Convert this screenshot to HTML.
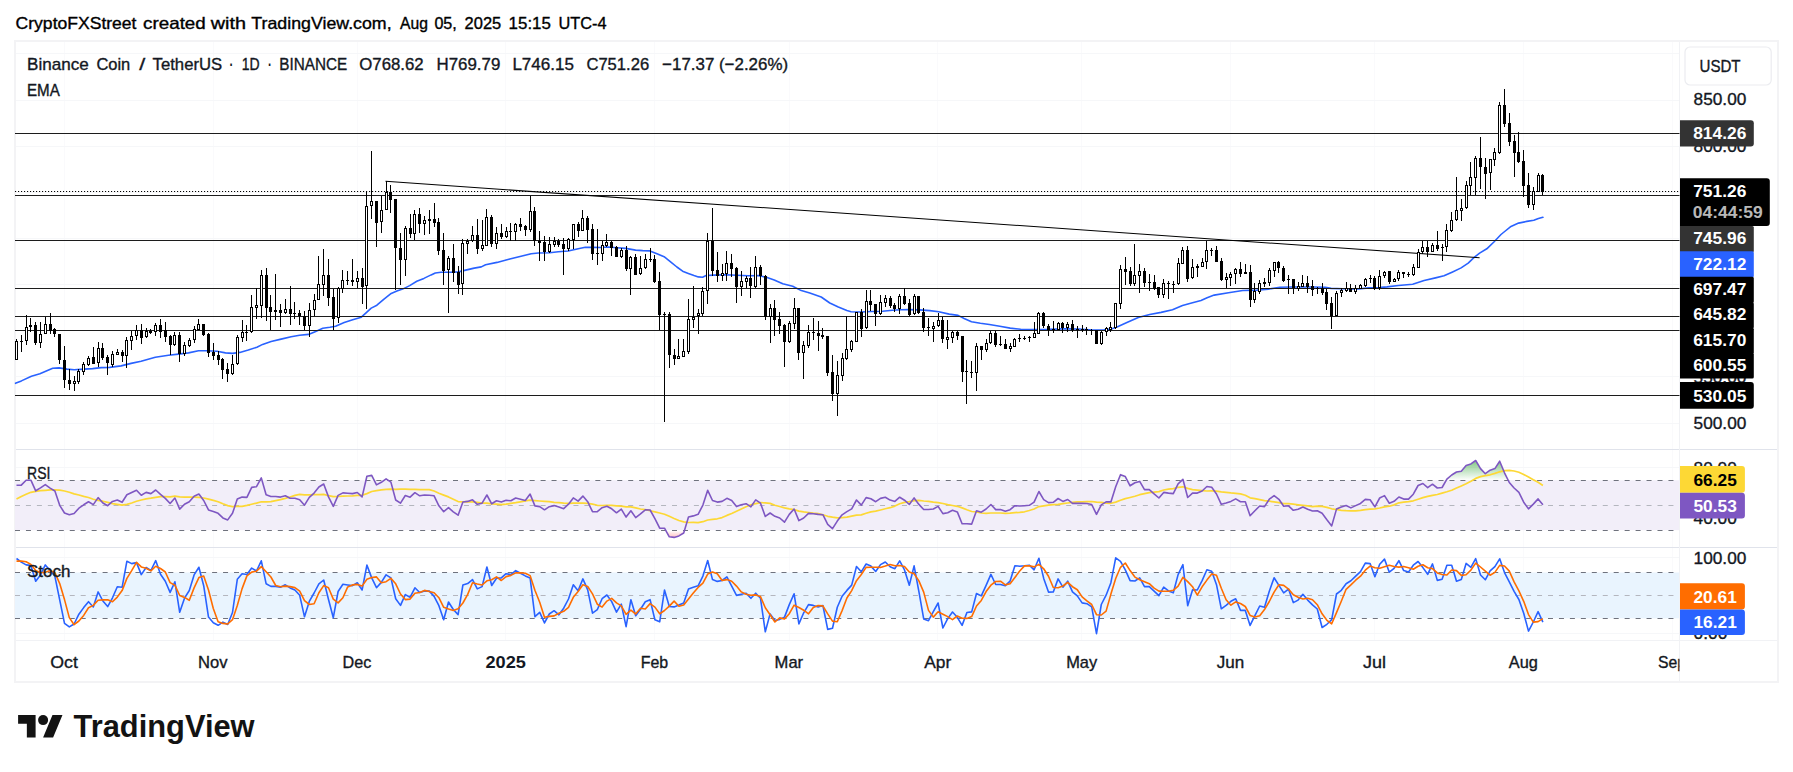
<!DOCTYPE html>
<html lang="en"><head><meta charset="utf-8"><title>BNBUSDT chart</title>
<style>html,body{margin:0;padding:0;background:#fff}body{width:1793px;height:772px;overflow:hidden}svg{display:block}</style>
</head><body>
<svg width="1793" height="772" viewBox="0 0 1793 772" font-family='"Liberation Sans", Arial, sans-serif' font-size="17">
<rect x="0" y="0" width="1793" height="772" fill="#fff"/>
<text x="15.6" y="28.6" font-size="16.5" font-weight="normal" fill="#000" stroke="#000" stroke-width="0.35" textLength="120.9" lengthAdjust="spacingAndGlyphs">CryptoFXStreet</text>
<text x="143.1" y="28.6" font-size="16.5" font-weight="normal" fill="#000" stroke="#000" stroke-width="0.35" textLength="62.7" lengthAdjust="spacingAndGlyphs">created</text>
<text x="210.8" y="28.6" font-size="16.5" font-weight="normal" fill="#000" stroke="#000" stroke-width="0.35" textLength="35.2" lengthAdjust="spacingAndGlyphs">with</text>
<text x="251.3" y="28.6" font-size="16.5" font-weight="normal" fill="#000" stroke="#000" stroke-width="0.35" textLength="140.3" lengthAdjust="spacingAndGlyphs">TradingView.com,</text>
<text x="400.0" y="28.6" font-size="16.5" font-weight="normal" fill="#000" stroke="#000" stroke-width="0.35" textLength="27.9" lengthAdjust="spacingAndGlyphs">Aug</text>
<text x="434.4" y="28.6" font-size="16.5" font-weight="normal" fill="#000" stroke="#000" stroke-width="0.35" textLength="22.4" lengthAdjust="spacingAndGlyphs">05,</text>
<text x="464.6" y="28.6" font-size="16.5" font-weight="normal" fill="#000" stroke="#000" stroke-width="0.35" textLength="36.6" lengthAdjust="spacingAndGlyphs">2025</text>
<text x="508.6" y="28.6" font-size="16.5" font-weight="normal" fill="#000" stroke="#000" stroke-width="0.35" textLength="42.3" lengthAdjust="spacingAndGlyphs">15:15</text>
<text x="558.4" y="28.6" font-size="16.5" font-weight="normal" fill="#000" stroke="#000" stroke-width="0.35" textLength="48.1" lengthAdjust="spacingAndGlyphs">UTC-4</text>
<rect x="15" y="41" width="1763" height="641" fill="none" stroke="#f3f3f5" stroke-width="2"/>
<g shape-rendering="crispEdges">
<line x1="64.3" y1="42" x2="64.3" y2="640" stroke="#fafafc" stroke-width="1"/>
<line x1="213.1" y1="42" x2="213.1" y2="640" stroke="#fafafc" stroke-width="1"/>
<line x1="357.1" y1="42" x2="357.1" y2="640" stroke="#fafafc" stroke-width="1"/>
<line x1="505.9" y1="42" x2="505.9" y2="640" stroke="#fafafc" stroke-width="1"/>
<line x1="654.7" y1="42" x2="654.7" y2="640" stroke="#fafafc" stroke-width="1"/>
<line x1="789.1" y1="42" x2="789.1" y2="640" stroke="#fafafc" stroke-width="1"/>
<line x1="937.9" y1="42" x2="937.9" y2="640" stroke="#fafafc" stroke-width="1"/>
<line x1="1081.9" y1="42" x2="1081.9" y2="640" stroke="#fafafc" stroke-width="1"/>
<line x1="1230.7" y1="42" x2="1230.7" y2="640" stroke="#fafafc" stroke-width="1"/>
<line x1="1374.7" y1="42" x2="1374.7" y2="640" stroke="#fafafc" stroke-width="1"/>
<line x1="1523.5" y1="42" x2="1523.5" y2="640" stroke="#fafafc" stroke-width="1"/>
<line x1="1672.3" y1="42" x2="1672.3" y2="640" stroke="#fafafc" stroke-width="1"/>
<line x1="16" y1="53.8" x2="1679.5" y2="53.8" stroke="#f6f7f9" stroke-width="1"/>
<line x1="16" y1="100.0" x2="1679.5" y2="100.0" stroke="#f6f7f9" stroke-width="1"/>
<line x1="16" y1="146.2" x2="1679.5" y2="146.2" stroke="#f6f7f9" stroke-width="1"/>
<line x1="16" y1="192.3" x2="1679.5" y2="192.3" stroke="#f6f7f9" stroke-width="1"/>
<line x1="16" y1="238.5" x2="1679.5" y2="238.5" stroke="#f6f7f9" stroke-width="1"/>
<line x1="16" y1="284.6" x2="1679.5" y2="284.6" stroke="#f6f7f9" stroke-width="1"/>
<line x1="16" y1="330.8" x2="1679.5" y2="330.8" stroke="#f6f7f9" stroke-width="1"/>
<line x1="16" y1="376.9" x2="1679.5" y2="376.9" stroke="#f6f7f9" stroke-width="1"/>
<line x1="16" y1="423.1" x2="1679.5" y2="423.1" stroke="#f6f7f9" stroke-width="1"/>
<line x1="16" y1="467.8" x2="1679.5" y2="467.8" stroke="#f6f7f9" stroke-width="1"/>
<line x1="16" y1="517.9" x2="1679.5" y2="517.9" stroke="#f6f7f9" stroke-width="1"/>
<line x1="16" y1="557.2" x2="1679.5" y2="557.2" stroke="#f6f7f9" stroke-width="1"/>
<line x1="16" y1="633.6" x2="1679.5" y2="633.6" stroke="#f6f7f9" stroke-width="1"/>
</g>
<rect x="15" y="480.3" width="1664.5" height="49.9" fill="#f2eef9"/>
<rect x="15" y="572.5" width="1664.5" height="45.8" fill="#e9f4fe"/>
<line x1="15" y1="480.5" x2="1679.5" y2="480.5" stroke="#6f727d" stroke-width="1.15" stroke-dasharray="5 5.95"/>
<line x1="15" y1="505.5" x2="1679.5" y2="505.5" stroke="#b4b6be" stroke-width="1.15" stroke-dasharray="5 5.95"/>
<line x1="15" y1="530.5" x2="1679.5" y2="530.5" stroke="#6f727d" stroke-width="1.15" stroke-dasharray="5 5.95"/>
<line x1="15" y1="572.5" x2="1679.5" y2="572.5" stroke="#6f727d" stroke-width="1.15" stroke-dasharray="5 5.95"/>
<line x1="15" y1="595.5" x2="1679.5" y2="595.5" stroke="#b4b6be" stroke-width="1.15" stroke-dasharray="5 5.95"/>
<line x1="15" y1="618.5" x2="1679.5" y2="618.5" stroke="#6f727d" stroke-width="1.15" stroke-dasharray="5 5.95"/>
<g shape-rendering="crispEdges">
<line x1="16" y1="449.5" x2="1777" y2="449.5" stroke="#e0e3eb" stroke-width="1.2"/>
<line x1="16" y1="547.3" x2="1777" y2="547.3" stroke="#e0e3eb" stroke-width="1.2"/>
<line x1="16" y1="640.5" x2="1777" y2="640.5" stroke="#f1f2f5" stroke-width="1"/>
<line x1="1679.5" y1="42" x2="1679.5" y2="681" stroke="#f1f2f5" stroke-width="1"/>
</g>
<clipPath id="cp"><rect x="14.5" y="42" width="1665" height="598"/></clipPath>
<g clip-path="url(#cp)">
<polyline points="15.4,383.3 21.4,380.9 31.4,376.2 39.9,373.8 52.7,368.3 59.1,367.9 67.0,369.1 74.1,369.8 84.1,369.1 92.6,368.6 101.2,367.6 109.7,367.4 121.1,365.9 131.1,363.4 141.1,361.2 155.3,357.2 168.5,355.2 178.5,354.1 188.5,352.9 198.5,350.8 207.0,350.8 217.0,351.2 225.5,352.9 232.6,353.4 239.8,352.4 248.3,350.1 256.9,347.2 262.6,344.4 271.1,341.5 281.1,339.1 291.1,336.7 299.6,335.3 308.5,334.4 315.7,331.4 322.8,328.3 329.9,327.3 335.6,326.2 344.2,322.6 352.7,319.7 361.3,317.2 365.5,313.3 371.2,308.1 376.9,305.2 384.0,299.1 391.2,293.4 396.9,291.0 402.6,289.1 409.7,285.6 416.8,281.3 423.9,278.4 431.1,274.9 435.3,273.0 441.0,272.3 451.0,272.2 458.5,271.9 465.7,270.1 474.2,268.1 481.3,266.9 485.6,264.8 497.0,262.4 509.8,259.1 524.1,255.5 531.2,253.7 538.3,253.0 549.7,252.7 558.3,251.7 568.2,251.0 578.2,248.7 585.3,247.3 592.5,247.4 601.0,247.5 608.5,247.0 617.1,247.7 625.6,248.4 635.6,250.1 642.7,250.6 649.9,250.9 657.0,253.7 664.1,256.7 671.2,262.3 676.9,267.0 682.6,271.2 688.3,273.4 694.0,275.5 698.3,276.9 702.6,277.2 706.1,275.5 714.0,275.1 725.4,274.8 736.8,275.2 748.1,275.8 758.5,275.6 765.7,277.1 774.2,279.9 782.8,283.8 792.7,286.3 801.3,290.6 809.8,293.0 821.2,297.0 829.8,303.0 838.3,307.0 846.9,310.5 851.1,311.7 861.1,312.0 871.1,311.5 882.5,311.3 892.5,310.3 901.0,309.7 908.9,309.6 919.4,309.9 929.8,310.6 938.7,311.7 949.2,314.1 958.1,315.4 964.1,318.5 971.5,321.8 980.4,323.3 989.4,324.5 999.8,326.3 1010.2,328.1 1020.7,329.3 1031.1,329.6 1040.0,329.6 1049.0,329.4 1064.2,328.7 1078.5,329.0 1092.7,330.0 1104.1,329.7 1111.3,329.0 1117.0,326.9 1126.9,322.6 1138.3,317.6 1149.7,314.5 1161.1,312.4 1172.5,309.8 1182.5,305.5 1192.5,302.7 1201.0,300.5 1207.1,297.7 1214.2,295.1 1228.5,292.7 1242.7,290.5 1257.0,290.1 1268.4,289.1 1279.8,287.3 1291.2,287.0 1302.6,287.0 1314.0,287.0 1325.4,287.3 1331.1,288.4 1342.5,288.7 1351.0,289.0 1358.5,289.0 1368.5,287.9 1378.5,287.6 1387.0,286.9 1398.4,285.5 1412.7,284.3 1424.1,280.5 1435.5,277.9 1444.0,275.8 1452.6,271.9 1461.1,267.9 1468.2,263.1 1473.9,257.7 1479.6,253.1 1486.8,248.8 1493.9,242.0 1501.0,234.5 1505.3,231.0 1510.4,226.8 1518.6,223.1 1526.8,221.4 1533.8,220.2 1538.4,218.5 1542.9,217.3" fill="none" stroke="#2962ff" stroke-width="1.6" stroke-linejoin="round" stroke-linecap="round"/>
<line x1="15" y1="133.5" x2="1680" y2="133.5" stroke="#1c1c1c" stroke-width="1.2"/>
<line x1="15" y1="195.5" x2="1680" y2="195.5" stroke="#1c1c1c" stroke-width="1.2"/>
<line x1="15" y1="240.5" x2="1680" y2="240.5" stroke="#1c1c1c" stroke-width="1.2"/>
<line x1="15" y1="288.5" x2="1680" y2="288.5" stroke="#1c1c1c" stroke-width="1.2"/>
<line x1="15" y1="316.5" x2="1680" y2="316.5" stroke="#1c1c1c" stroke-width="1.2"/>
<line x1="15" y1="330.5" x2="1680" y2="330.5" stroke="#1c1c1c" stroke-width="1.2"/>
<line x1="15" y1="395.5" x2="1680" y2="395.5" stroke="#1c1c1c" stroke-width="1.2"/>
<line x1="15" y1="191.5" x2="1680" y2="191.5" stroke="#000" stroke-width="1" stroke-dasharray="1.15 1.85"/>
<line x1="385.5" y1="181.3" x2="1479.6" y2="257.7" stroke="#000" stroke-width="1.05"/>
<path d="M16.5 339V360M21.5 335V352M26.5 315V345M30.5 318V332M35.5 322V345M40.5 322V348M45.5 317V334M50.5 313V334M54.5 328V337M59.5 334V364M64.5 346V388M69.5 369V390M74.5 376V391M78.5 369V384M83.5 362V375M88.5 356V366M93.5 347V364M98.5 342V367M102.5 343V360M107.5 355V375M112.5 351V367M117.5 349V355M122.5 350V362M126.5 337V368M131.5 331V350M136.5 325V340M141.5 324V344M146.5 328V338M150.5 329V334M155.5 323V336M160.5 319V338M165.5 322V342M170.5 335V355M174.5 332V346M179.5 332V362M184.5 342V356M189.5 338V347M194.5 326V343M198.5 319V330M203.5 324V336M208.5 333V357M213.5 343V360M218.5 351V365M222.5 358V379M227.5 363V382M232.5 355V375M237.5 335V365M242.5 320V342M246.5 325V341M251.5 295V333M256.5 288V319M261.5 270V318M266.5 268V321M270.5 295V330M275.5 274V320M280.5 304V327M285.5 299V314M290.5 286V325M294.5 302V319M299.5 310V325M304.5 311V330M309.5 303V337M314.5 294V316M318.5 256V300M323.5 249V296M328.5 259V306M333.5 289V330M338.5 287V323M342.5 270V293M347.5 271V285M352.5 259V286M357.5 271V288M362.5 268V304M366.5 191V309M371.5 151V219M376.5 201V247M381.5 196V233M386.5 181V210M390.5 185V213M395.5 199V290M400.5 233V285M405.5 226V276M410.5 214V238M414.5 210V240M419.5 208V233M424.5 216V235M429.5 210V234M434.5 203V227M438.5 218V255M443.5 233V285M448.5 256V313M453.5 244V282M458.5 266V294M462.5 239V295M467.5 239V254M472.5 226V242M477.5 219V254M482.5 220V251M486.5 209V246M491.5 215V247M496.5 227V249M501.5 224V239M506.5 227V238M510.5 223V241M515.5 223V241M520.5 218V231M525.5 225V236M530.5 196V232M534.5 207V246M539.5 231V261M544.5 236V261M549.5 237V253M554.5 237V247M558.5 239V247M563.5 238V275M568.5 238V251M573.5 224V249M578.5 222V237M582.5 210V231M587.5 216V243M592.5 224V260M597.5 229V265M602.5 241V261M606.5 234V247M611.5 241V256M616.5 246V257M621.5 248V258M626.5 246V271M630.5 256V295M635.5 254V275M640.5 256V275M645.5 254V269M650.5 248V262M654.5 255V283M659.5 272V330M664.5 312V422M669.5 312V368M674.5 349V365M678.5 339V359M683.5 339V357M688.5 299V354M693.5 286V328M698.5 309V334M702.5 287V316M707.5 233V304M712.5 208V276M717.5 252V282M722.5 264V281M726.5 251V281M731.5 254V277M736.5 267V303M741.5 271V296M746.5 276V288M750.5 267V298M755.5 256V288M760.5 265V285M765.5 275V320M770.5 304V343M774.5 300V336M779.5 312V334M784.5 324V367M789.5 321V343M794.5 298V329M798.5 308V360M803.5 341V379M808.5 325V348M813.5 318V340M818.5 321V351M822.5 328V339M827.5 336V376M832.5 355V401M837.5 361V416M842.5 353V381M846.5 316V360M851.5 340V352M856.5 312V342M861.5 309V337M866.5 290V329M870.5 290V311M875.5 304V326M880.5 295V315M885.5 295V307M890.5 296V308M894.5 303V312M899.5 294V314M904.5 288V305M909.5 299V316M914.5 294V315M918.5 296V314M923.5 308V332M928.5 318V336M933.5 322V342M938.5 313V327M942.5 317V343M947.5 320V349M952.5 331V343M957.5 331V340M962.5 336V382M966.5 360V404M971.5 361V378M976.5 343V391M981.5 346V360M986.5 339V352M990.5 331V344M995.5 331V347M1000.5 336V346M1005.5 339V349M1010.5 343V352M1014.5 338V347M1019.5 334V342M1024.5 336V340M1029.5 336V342M1034.5 322V338M1038.5 312V334M1043.5 312V328M1048.5 324V336M1053.5 321V333M1058.5 322V330M1062.5 322V333M1067.5 322V332M1072.5 320V332M1077.5 326V338M1082.5 325V332M1086.5 327V335M1091.5 329V335M1096.5 330V344M1101.5 331V345M1106.5 327V336M1110.5 322V332M1115.5 303V329M1120.5 265V309M1125.5 257V285M1130.5 267V286M1134.5 244V286M1139.5 264V293M1144.5 268V287M1149.5 274V291M1154.5 275V290M1158.5 287V298M1163.5 279V298M1168.5 281V299M1173.5 281V293M1178.5 258V285M1182.5 247V264M1187.5 246V282M1192.5 259V279M1197.5 264V277M1202.5 258V267M1206.5 241V269M1211.5 248V256M1216.5 246V262M1221.5 258V281M1226.5 273V288M1230.5 272V286M1235.5 268V284M1240.5 262V277M1245.5 264V274M1250.5 265V307M1254.5 283V303M1259.5 280V294M1264.5 278V287M1269.5 268V286M1274.5 262V277M1278.5 261V273M1283.5 266V282M1288.5 275V294M1293.5 279V294M1298.5 282V291M1302.5 275V287M1307.5 276V293M1312.5 280V296M1317.5 287V294M1322.5 283V295M1326.5 289V310M1331.5 297V329M1336.5 291V316M1341.5 288V297M1346.5 282V292M1350.5 284V292M1355.5 285V294M1360.5 284V289M1365.5 278V287M1370.5 275V283M1374.5 276V290M1379.5 270V290M1384.5 271V278M1389.5 271V284M1394.5 278V282M1398.5 270V281M1403.5 272V278M1408.5 272V277M1413.5 264V276M1418.5 249V268M1422.5 241V254M1427.5 241V257M1432.5 243V252M1437.5 231V251M1442.5 244V261M1446.5 224V252M1451.5 212V232M1456.5 177V221M1461.5 199V221M1466.5 181V209M1470.5 162V195M1475.5 156V195M1480.5 137V189M1485.5 158V199M1490.5 159V190M1494.5 148V166M1499.5 102V154M1504.5 89V127M1509.5 113V146M1514.5 135V177M1518.5 132V163M1523.5 150V197M1528.5 173V208M1533.5 187V210M1538.5 173V192M1542.5 174V195" stroke="#000" stroke-width="1" fill="none"/>
<path d="M15 341h3V360h-3zM20 341h3V342h-3zM25 327h3V341h-3zM29 325h3V327h-3zM34 325h3V343h-3zM39 334h3V343h-3zM44 324h3V334h-3zM49 324h3V331h-3zM53 329h3V334h-3zM58 334h3V360h-3zM63 360h3V380h-3zM68 380h3V384h-3zM73 381h3V384h-3zM77 371h3V382h-3zM82 364h3V372h-3zM87 358h3V365h-3zM92 357h3V364h-3zM97 348h3V363h-3zM101 348h3V358h-3zM106 357h3V363h-3zM111 354h3V365h-3zM116 352h3V355h-3zM121 352h3V356h-3zM125 340h3V356h-3zM130 336h3V341h-3zM135 330h3V336h-3zM140 330h3V338h-3zM145 331h3V337h-3zM149 331h3V333h-3zM154 325h3V332h-3zM159 325h3V332h-3zM164 330h3V337h-3zM169 336h3V345h-3zM173 335h3V345h-3zM178 335h3V354h-3zM183 345h3V354h-3zM188 340h3V346h-3zM193 329h3V340h-3zM197 324h3V330h-3zM202 324h3V335h-3zM207 334h3V353h-3zM212 352h3V356h-3zM217 355h3V360h-3zM221 359h3V370h-3zM226 369h3V374h-3zM231 364h3V374h-3zM236 337h3V364h-3zM241 332h3V338h-3zM245 332h3V333h-3zM250 307h3V332h-3zM255 305h3V308h-3zM260 275h3V306h-3zM265 275h3V308h-3zM269 307h3V312h-3zM274 310h3V312h-3zM279 310h3V313h-3zM284 309h3V313h-3zM289 309h3V314h-3zM293 313h3V314h-3zM298 313h3V316h-3zM303 316h3V326h-3zM308 310h3V326h-3zM313 300h3V310h-3zM317 284h3V300h-3zM322 275h3V285h-3zM327 275h3V298h-3zM332 297h3V319h-3zM337 288h3V318h-3zM341 280h3V289h-3zM346 280h3V281h-3zM351 280h3V282h-3zM356 278h3V282h-3zM361 278h3V287h-3zM365 206h3V286h-3zM370 201h3V206h-3zM375 201h3V223h-3zM380 210h3V222h-3zM385 192h3V210h-3zM389 192h3V200h-3zM394 199h3V248h-3zM399 248h3V260h-3zM404 228h3V260h-3zM409 228h3V234h-3zM413 214h3V234h-3zM418 214h3V224h-3zM423 220h3V224h-3zM428 219h3V221h-3zM433 219h3V223h-3zM437 222h3V251h-3zM442 250h3V271h-3zM447 258h3V270h-3zM452 258h3V273h-3zM457 272h3V285h-3zM461 243h3V284h-3zM466 241h3V244h-3zM471 235h3V241h-3zM476 235h3V249h-3zM481 245h3V249h-3zM485 217h3V246h-3zM490 217h3V244h-3zM495 233h3V244h-3zM500 233h3V237h-3zM505 231h3V237h-3zM509 231h3V232h-3zM514 224h3V232h-3zM519 224h3V227h-3zM524 226h3V230h-3zM529 211h3V230h-3zM533 211h3V241h-3zM538 241h3V243h-3zM543 242h3V252h-3zM548 244h3V252h-3zM553 241h3V245h-3zM557 241h3V245h-3zM562 244h3V249h-3zM567 239h3V249h-3zM572 224h3V240h-3zM577 224h3V231h-3zM581 218h3V231h-3zM586 218h3V230h-3zM591 229h3V254h-3zM596 253h3V254h-3zM601 245h3V254h-3zM605 242h3V246h-3zM610 242h3V248h-3zM615 247h3V257h-3zM620 250h3V257h-3zM625 250h3V269h-3zM629 257h3V269h-3zM634 257h3V275h-3zM639 268h3V274h-3zM644 259h3V268h-3zM649 259h3V260h-3zM653 259h3V282h-3zM658 281h3V315h-3zM663 314h3V315h-3zM668 314h3V355h-3zM673 355h3V359h-3zM677 356h3V359h-3zM682 351h3V357h-3zM687 319h3V352h-3zM692 317h3V320h-3zM697 313h3V316h-3zM701 291h3V314h-3zM706 241h3V291h-3zM711 241h3V271h-3zM716 270h3V276h-3zM721 273h3V276h-3zM725 263h3V274h-3zM730 263h3V269h-3zM735 268h3V287h-3zM740 281h3V287h-3zM745 278h3V282h-3zM749 278h3V286h-3zM754 267h3V287h-3zM759 267h3V276h-3zM764 276h3V317h-3zM769 308h3V317h-3zM773 308h3V320h-3zM778 319h3V326h-3zM783 325h3V342h-3zM788 323h3V342h-3zM793 308h3V324h-3zM797 308h3V353h-3zM802 345h3V353h-3zM807 332h3V346h-3zM812 332h3V333h-3zM817 333h3V336h-3zM821 335h3V337h-3zM826 336h3V373h-3zM831 372h3V394h-3zM836 375h3V394h-3zM841 358h3V376h-3zM845 349h3V359h-3zM850 341h3V350h-3zM855 312h3V342h-3zM860 312h3V329h-3zM865 301h3V328h-3zM869 301h3V305h-3zM874 304h3V314h-3zM879 302h3V314h-3zM884 298h3V303h-3zM889 298h3V306h-3zM893 305h3V309h-3zM898 296h3V309h-3zM903 296h3V304h-3zM908 303h3V315h-3zM913 296h3V314h-3zM917 296h3V313h-3zM922 312h3V328h-3zM927 327h3V328h-3zM932 326h3V329h-3zM937 320h3V326h-3zM941 320h3V339h-3zM946 337h3V340h-3zM951 332h3V338h-3zM956 332h3V336h-3zM961 336h3V372h-3zM965 371h3V372h-3zM970 372h3V373h-3zM975 346h3V373h-3zM980 346h3V350h-3zM985 343h3V350h-3zM989 333h3V343h-3zM994 333h3V345h-3zM999 344h3V345h-3zM1004 344h3V349h-3zM1009 346h3V349h-3zM1013 339h3V347h-3zM1018 338h3V339h-3zM1023 338h3V339h-3zM1028 337h3V338h-3zM1033 333h3V338h-3zM1037 313h3V334h-3zM1042 313h3V326h-3zM1047 326h3V330h-3zM1052 329h3V330h-3zM1057 323h3V330h-3zM1061 323h3V328h-3zM1066 324h3V328h-3zM1071 324h3V330h-3zM1076 329h3V330h-3zM1081 329h3V330h-3zM1085 329h3V330h-3zM1090 330h3V331h-3zM1095 330h3V344h-3zM1100 332h3V344h-3zM1105 328h3V332h-3zM1109 327h3V330h-3zM1114 303h3V328h-3zM1119 269h3V304h-3zM1124 269h3V272h-3zM1129 271h3V284h-3zM1133 275h3V284h-3zM1138 271h3V276h-3zM1143 271h3V283h-3zM1148 282h3V283h-3zM1153 282h3V289h-3zM1157 287h3V295h-3zM1162 283h3V295h-3zM1167 283h3V284h-3zM1172 284h3V285h-3zM1177 263h3V284h-3zM1181 250h3V264h-3zM1186 250h3V279h-3zM1191 267h3V278h-3zM1196 266h3V268h-3zM1201 262h3V267h-3zM1205 250h3V262h-3zM1210 250h3V251h-3zM1215 250h3V262h-3zM1220 261h3V280h-3zM1225 277h3V280h-3zM1229 274h3V278h-3zM1234 269h3V274h-3zM1239 269h3V274h-3zM1244 272h3V274h-3zM1249 272h3V300h-3zM1253 291h3V300h-3zM1258 283h3V292h-3zM1263 282h3V284h-3zM1268 270h3V283h-3zM1273 262h3V271h-3zM1277 262h3V268h-3zM1282 268h3V281h-3zM1287 279h3V280h-3zM1292 279h3V288h-3zM1297 286h3V289h-3zM1301 283h3V287h-3zM1306 283h3V287h-3zM1311 286h3V290h-3zM1316 288h3V289h-3zM1321 288h3V293h-3zM1325 292h3V304h-3zM1330 303h3V316h-3zM1335 293h3V316h-3zM1340 290h3V293h-3zM1345 288h3V291h-3zM1349 288h3V292h-3zM1354 288h3V292h-3zM1359 285h3V289h-3zM1364 279h3V286h-3zM1369 278h3V279h-3zM1373 278h3V289h-3zM1378 276h3V288h-3zM1383 272h3V276h-3zM1388 271h3V282h-3zM1393 279h3V282h-3zM1397 272h3V279h-3zM1402 272h3V274h-3zM1407 274h3V275h-3zM1412 267h3V275h-3zM1417 252h3V268h-3zM1421 247h3V252h-3zM1426 247h3V252h-3zM1431 245h3V252h-3zM1436 245h3V249h-3zM1441 247h3V248h-3zM1445 230h3V247h-3zM1450 220h3V231h-3zM1455 210h3V220h-3zM1460 208h3V211h-3zM1465 185h3V208h-3zM1469 177h3V186h-3zM1474 158h3V178h-3zM1479 158h3V167h-3zM1484 167h3V174h-3zM1489 159h3V173h-3zM1493 152h3V160h-3zM1498 105h3V153h-3zM1503 105h3V124h-3zM1508 123h3V142h-3zM1513 141h3V153h-3zM1517 152h3V162h-3zM1522 161h3V186h-3zM1527 185h3V205h-3zM1532 191h3V205h-3zM1537 175h3V192h-3zM1541 175h3V192h-3z" fill="#000"/>
<path d="M16 342h1V359h-1zM26 328h1V340h-1zM40 335h1V342h-1zM45 325h1V333h-1zM74 382h1V383h-1zM78 372h1V381h-1zM83 365h1V371h-1zM88 359h1V364h-1zM98 349h1V362h-1zM112 355h1V364h-1zM117 353h1V354h-1zM126 341h1V355h-1zM131 337h1V340h-1zM136 331h1V335h-1zM146 332h1V336h-1zM155 326h1V331h-1zM174 336h1V344h-1zM184 346h1V353h-1zM189 341h1V345h-1zM194 330h1V339h-1zM198 325h1V329h-1zM232 365h1V373h-1zM237 338h1V363h-1zM242 333h1V337h-1zM251 308h1V331h-1zM256 306h1V307h-1zM261 276h1V305h-1zM285 310h1V312h-1zM309 311h1V325h-1zM314 301h1V309h-1zM318 285h1V299h-1zM323 276h1V284h-1zM338 289h1V317h-1zM342 281h1V288h-1zM357 279h1V281h-1zM366 207h1V285h-1zM371 202h1V205h-1zM381 211h1V221h-1zM386 193h1V209h-1zM405 229h1V259h-1zM414 215h1V233h-1zM424 221h1V223h-1zM448 259h1V269h-1zM462 244h1V283h-1zM467 242h1V243h-1zM472 236h1V240h-1zM482 246h1V248h-1zM486 218h1V245h-1zM496 234h1V243h-1zM506 232h1V236h-1zM515 225h1V231h-1zM530 212h1V229h-1zM549 245h1V251h-1zM554 242h1V244h-1zM568 240h1V248h-1zM573 225h1V239h-1zM582 219h1V230h-1zM602 246h1V253h-1zM606 243h1V245h-1zM621 251h1V256h-1zM630 258h1V268h-1zM640 269h1V273h-1zM645 260h1V267h-1zM678 357h1V358h-1zM683 352h1V356h-1zM688 320h1V351h-1zM693 318h1V319h-1zM698 314h1V315h-1zM702 292h1V313h-1zM707 242h1V290h-1zM722 274h1V275h-1zM726 264h1V273h-1zM741 282h1V286h-1zM746 279h1V281h-1zM755 268h1V286h-1zM770 309h1V316h-1zM789 324h1V341h-1zM794 309h1V323h-1zM803 346h1V352h-1zM808 333h1V345h-1zM837 376h1V393h-1zM842 359h1V375h-1zM846 350h1V358h-1zM851 342h1V349h-1zM856 313h1V341h-1zM866 302h1V327h-1zM880 303h1V313h-1zM885 299h1V302h-1zM899 297h1V308h-1zM914 297h1V313h-1zM933 327h1V328h-1zM938 321h1V325h-1zM947 338h1V339h-1zM952 333h1V337h-1zM976 347h1V372h-1zM986 344h1V349h-1zM990 334h1V342h-1zM1010 347h1V348h-1zM1014 340h1V346h-1zM1034 334h1V337h-1zM1038 314h1V333h-1zM1058 324h1V329h-1zM1067 325h1V327h-1zM1101 333h1V343h-1zM1106 329h1V331h-1zM1110 328h1V329h-1zM1115 304h1V327h-1zM1120 270h1V303h-1zM1134 276h1V283h-1zM1139 272h1V275h-1zM1163 284h1V294h-1zM1178 264h1V283h-1zM1182 251h1V263h-1zM1192 268h1V277h-1zM1202 263h1V266h-1zM1206 251h1V261h-1zM1226 278h1V279h-1zM1230 275h1V277h-1zM1235 270h1V273h-1zM1254 292h1V299h-1zM1259 284h1V291h-1zM1269 271h1V282h-1zM1274 263h1V270h-1zM1298 287h1V288h-1zM1302 284h1V286h-1zM1336 294h1V315h-1zM1341 291h1V292h-1zM1346 289h1V290h-1zM1355 289h1V291h-1zM1360 286h1V288h-1zM1365 280h1V285h-1zM1379 277h1V287h-1zM1384 273h1V275h-1zM1394 280h1V281h-1zM1398 273h1V278h-1zM1413 268h1V274h-1zM1418 253h1V267h-1zM1422 248h1V251h-1zM1432 246h1V251h-1zM1446 231h1V246h-1zM1451 221h1V230h-1zM1456 211h1V219h-1zM1461 209h1V210h-1zM1466 186h1V207h-1zM1470 178h1V185h-1zM1475 159h1V177h-1zM1490 160h1V172h-1zM1494 153h1V159h-1zM1499 106h1V152h-1zM1533 192h1V204h-1zM1538 176h1V191h-1z" fill="#fff"/>
<defs><linearGradient id="gg" x1="0" y1="455" x2="0" y2="480.3" gradientUnits="userSpaceOnUse"><stop offset="0" stop-color="#4caf50" stop-opacity="0.9"/><stop offset="1" stop-color="#4caf50" stop-opacity="0"/></linearGradient><clipPath id="c70"><rect x="16" y="440" width="1664" height="40.3"/></clipPath></defs>
<polygon points="16.5,480.3 16.5,485.2 21.3,485.1 26.1,480.3 30.9,480.2 35.7,490.8 40.5,487.9 45.3,484.6 50.1,488.1 54.9,491.0 59.7,505.3 64.5,513.0 69.3,514.7 74.1,513.5 78.9,508.2 83.7,504.8 88.5,501.8 93.3,504.6 98.1,497.6 102.9,503.0 107.7,505.7 112.5,501.4 117.3,500.0 122.1,502.3 126.9,494.8 131.7,492.5 136.5,490.2 141.3,495.3 146.1,492.4 150.9,493.6 155.7,490.0 160.5,494.4 165.3,498.4 170.1,503.5 174.9,498.0 179.7,509.1 184.5,504.2 189.3,501.7 194.1,496.2 198.9,494.0 203.7,500.5 208.5,509.9 213.3,511.4 218.1,513.3 222.9,517.9 227.7,519.9 232.5,513.3 237.3,499.1 242.1,497.1 246.9,497.4 251.7,487.4 256.5,486.7 261.3,477.9 266.1,494.7 270.9,496.5 275.7,496.5 280.5,497.1 285.3,495.7 290.1,498.2 294.9,498.2 299.7,499.7 304.5,505.2 309.3,497.4 314.1,493.1 318.9,487.0 323.7,484.0 328.5,496.9 333.3,506.4 338.1,495.4 342.9,492.9 347.7,493.3 352.5,493.6 357.3,492.5 362.1,496.9 366.9,476.2 371.7,475.4 376.5,484.9 381.3,482.3 386.1,478.9 390.9,482.1 395.7,500.0 400.5,503.2 405.3,495.5 410.1,497.2 414.9,492.7 419.7,495.8 424.5,495.0 429.3,495.2 434.1,495.8 438.9,505.8 443.7,511.7 448.5,507.7 453.3,511.8 458.1,515.2 462.9,502.0 467.7,501.4 472.5,499.8 477.3,504.3 482.1,503.2 486.9,495.0 491.7,503.8 496.5,500.8 501.3,502.1 506.1,500.3 510.9,500.8 515.7,498.0 520.5,499.2 525.3,500.5 530.1,494.1 534.9,505.9 539.7,506.6 544.5,509.8 549.3,506.7 554.1,505.6 558.9,507.0 563.7,508.7 568.5,504.2 573.3,497.9 578.1,501.1 582.9,496.1 587.7,501.7 592.5,511.7 597.3,511.7 602.1,507.7 606.9,506.2 611.7,508.8 616.5,512.8 621.3,509.1 626.1,517.1 630.9,510.8 635.7,517.6 640.5,513.9 645.3,509.9 650.1,510.0 654.9,518.7 659.7,528.2 664.5,528.2 669.3,536.8 674.1,537.4 678.9,535.9 683.7,533.0 688.5,517.0 693.3,515.9 698.1,514.3 702.9,505.1 707.7,490.3 712.5,500.5 717.3,502.1 722.1,501.4 726.9,498.3 731.7,500.4 736.5,506.6 741.3,504.8 746.1,503.7 750.9,506.8 755.7,499.9 760.5,503.2 765.3,516.4 770.1,513.0 774.9,516.3 779.7,518.0 784.5,522.2 789.3,514.4 794.1,509.0 798.9,520.6 803.7,518.0 808.5,513.4 813.3,513.7 818.1,514.4 822.9,514.7 827.7,524.3 832.5,528.6 837.3,521.1 842.1,514.8 846.9,511.6 851.7,508.9 856.5,500.0 861.3,505.1 866.1,497.6 870.9,498.8 875.7,501.7 880.5,498.4 885.3,497.2 890.1,500.1 894.9,501.4 899.7,497.2 904.5,500.2 909.3,504.5 914.1,497.9 918.9,504.4 923.7,509.5 928.5,509.5 933.3,509.0 938.1,506.4 942.9,513.6 947.7,512.7 952.5,510.2 957.3,511.9 962.1,523.8 966.9,523.8 971.7,524.1 976.5,510.7 981.3,512.2 986.1,509.0 990.9,504.5 995.7,509.6 1000.5,509.6 1005.3,511.3 1010.1,509.7 1014.9,505.7 1019.7,506.0 1024.5,505.7 1029.3,505.3 1034.1,502.2 1038.9,491.5 1043.7,499.6 1048.5,502.6 1053.3,502.3 1058.1,498.5 1062.9,501.4 1067.7,499.5 1072.5,503.4 1077.3,503.4 1082.1,503.2 1086.9,503.5 1091.7,504.5 1096.5,514.3 1101.3,504.9 1106.1,501.9 1110.9,501.9 1115.7,486.8 1120.5,474.7 1125.3,476.6 1130.1,485.8 1134.9,482.8 1139.7,481.4 1144.5,489.6 1149.3,489.6 1154.1,493.9 1158.9,498.0 1163.7,492.4 1168.5,493.1 1173.3,493.6 1178.1,483.8 1182.9,479.3 1187.7,497.5 1192.5,493.1 1197.3,493.1 1202.1,491.0 1206.9,486.5 1211.7,487.3 1216.5,494.0 1221.3,504.3 1226.1,503.0 1230.9,501.4 1235.7,498.9 1240.5,501.7 1245.3,501.7 1250.1,515.7 1254.9,510.7 1259.7,506.0 1264.5,506.6 1269.3,499.2 1274.1,495.6 1278.9,499.3 1283.7,506.3 1288.5,505.8 1293.3,510.3 1298.1,509.3 1302.9,507.0 1307.7,509.2 1312.5,511.0 1317.3,510.7 1322.1,513.3 1326.9,519.8 1331.7,525.9 1336.5,509.1 1341.3,507.0 1346.1,505.5 1350.9,507.9 1355.7,505.6 1360.5,503.4 1365.3,499.4 1370.1,499.7 1374.9,506.9 1379.7,498.0 1384.5,495.6 1389.3,503.2 1394.1,501.3 1398.9,497.0 1403.7,499.1 1408.5,499.1 1413.3,494.2 1418.1,485.5 1422.9,483.5 1427.7,487.6 1432.5,484.2 1437.3,488.0 1442.1,487.5 1446.9,479.1 1451.7,475.0 1456.5,472.0 1461.3,471.2 1466.1,465.5 1470.9,463.9 1475.7,460.5 1480.5,468.6 1485.3,473.7 1490.1,470.2 1494.9,468.6 1499.7,461.2 1504.5,472.8 1509.3,482.5 1514.1,488.0 1518.9,492.3 1523.7,502.2 1528.5,508.9 1533.3,504.1 1538.1,498.9 1542.9,504.7 1542.9,480.3" fill="url(#gg)" clip-path="url(#c70)"/>
<defs><linearGradient id="gr" x1="0" y1="530.5" x2="0" y2="546" gradientUnits="userSpaceOnUse"><stop offset="0" stop-color="#ff5252" stop-opacity="0"/><stop offset="1" stop-color="#ff5252" stop-opacity="0.8"/></linearGradient><clipPath id="c30"><rect x="16" y="530.5" width="1664" height="30"/></clipPath></defs>
<polygon points="16.5,530.5 16.5,485.2 21.3,485.1 26.1,480.3 30.9,480.2 35.7,490.8 40.5,487.9 45.3,484.6 50.1,488.1 54.9,491.0 59.7,505.3 64.5,513.0 69.3,514.7 74.1,513.5 78.9,508.2 83.7,504.8 88.5,501.8 93.3,504.6 98.1,497.6 102.9,503.0 107.7,505.7 112.5,501.4 117.3,500.0 122.1,502.3 126.9,494.8 131.7,492.5 136.5,490.2 141.3,495.3 146.1,492.4 150.9,493.6 155.7,490.0 160.5,494.4 165.3,498.4 170.1,503.5 174.9,498.0 179.7,509.1 184.5,504.2 189.3,501.7 194.1,496.2 198.9,494.0 203.7,500.5 208.5,509.9 213.3,511.4 218.1,513.3 222.9,517.9 227.7,519.9 232.5,513.3 237.3,499.1 242.1,497.1 246.9,497.4 251.7,487.4 256.5,486.7 261.3,477.9 266.1,494.7 270.9,496.5 275.7,496.5 280.5,497.1 285.3,495.7 290.1,498.2 294.9,498.2 299.7,499.7 304.5,505.2 309.3,497.4 314.1,493.1 318.9,487.0 323.7,484.0 328.5,496.9 333.3,506.4 338.1,495.4 342.9,492.9 347.7,493.3 352.5,493.6 357.3,492.5 362.1,496.9 366.9,476.2 371.7,475.4 376.5,484.9 381.3,482.3 386.1,478.9 390.9,482.1 395.7,500.0 400.5,503.2 405.3,495.5 410.1,497.2 414.9,492.7 419.7,495.8 424.5,495.0 429.3,495.2 434.1,495.8 438.9,505.8 443.7,511.7 448.5,507.7 453.3,511.8 458.1,515.2 462.9,502.0 467.7,501.4 472.5,499.8 477.3,504.3 482.1,503.2 486.9,495.0 491.7,503.8 496.5,500.8 501.3,502.1 506.1,500.3 510.9,500.8 515.7,498.0 520.5,499.2 525.3,500.5 530.1,494.1 534.9,505.9 539.7,506.6 544.5,509.8 549.3,506.7 554.1,505.6 558.9,507.0 563.7,508.7 568.5,504.2 573.3,497.9 578.1,501.1 582.9,496.1 587.7,501.7 592.5,511.7 597.3,511.7 602.1,507.7 606.9,506.2 611.7,508.8 616.5,512.8 621.3,509.1 626.1,517.1 630.9,510.8 635.7,517.6 640.5,513.9 645.3,509.9 650.1,510.0 654.9,518.7 659.7,528.2 664.5,528.2 669.3,536.8 674.1,537.4 678.9,535.9 683.7,533.0 688.5,517.0 693.3,515.9 698.1,514.3 702.9,505.1 707.7,490.3 712.5,500.5 717.3,502.1 722.1,501.4 726.9,498.3 731.7,500.4 736.5,506.6 741.3,504.8 746.1,503.7 750.9,506.8 755.7,499.9 760.5,503.2 765.3,516.4 770.1,513.0 774.9,516.3 779.7,518.0 784.5,522.2 789.3,514.4 794.1,509.0 798.9,520.6 803.7,518.0 808.5,513.4 813.3,513.7 818.1,514.4 822.9,514.7 827.7,524.3 832.5,528.6 837.3,521.1 842.1,514.8 846.9,511.6 851.7,508.9 856.5,500.0 861.3,505.1 866.1,497.6 870.9,498.8 875.7,501.7 880.5,498.4 885.3,497.2 890.1,500.1 894.9,501.4 899.7,497.2 904.5,500.2 909.3,504.5 914.1,497.9 918.9,504.4 923.7,509.5 928.5,509.5 933.3,509.0 938.1,506.4 942.9,513.6 947.7,512.7 952.5,510.2 957.3,511.9 962.1,523.8 966.9,523.8 971.7,524.1 976.5,510.7 981.3,512.2 986.1,509.0 990.9,504.5 995.7,509.6 1000.5,509.6 1005.3,511.3 1010.1,509.7 1014.9,505.7 1019.7,506.0 1024.5,505.7 1029.3,505.3 1034.1,502.2 1038.9,491.5 1043.7,499.6 1048.5,502.6 1053.3,502.3 1058.1,498.5 1062.9,501.4 1067.7,499.5 1072.5,503.4 1077.3,503.4 1082.1,503.2 1086.9,503.5 1091.7,504.5 1096.5,514.3 1101.3,504.9 1106.1,501.9 1110.9,501.9 1115.7,486.8 1120.5,474.7 1125.3,476.6 1130.1,485.8 1134.9,482.8 1139.7,481.4 1144.5,489.6 1149.3,489.6 1154.1,493.9 1158.9,498.0 1163.7,492.4 1168.5,493.1 1173.3,493.6 1178.1,483.8 1182.9,479.3 1187.7,497.5 1192.5,493.1 1197.3,493.1 1202.1,491.0 1206.9,486.5 1211.7,487.3 1216.5,494.0 1221.3,504.3 1226.1,503.0 1230.9,501.4 1235.7,498.9 1240.5,501.7 1245.3,501.7 1250.1,515.7 1254.9,510.7 1259.7,506.0 1264.5,506.6 1269.3,499.2 1274.1,495.6 1278.9,499.3 1283.7,506.3 1288.5,505.8 1293.3,510.3 1298.1,509.3 1302.9,507.0 1307.7,509.2 1312.5,511.0 1317.3,510.7 1322.1,513.3 1326.9,519.8 1331.7,525.9 1336.5,509.1 1341.3,507.0 1346.1,505.5 1350.9,507.9 1355.7,505.6 1360.5,503.4 1365.3,499.4 1370.1,499.7 1374.9,506.9 1379.7,498.0 1384.5,495.6 1389.3,503.2 1394.1,501.3 1398.9,497.0 1403.7,499.1 1408.5,499.1 1413.3,494.2 1418.1,485.5 1422.9,483.5 1427.7,487.6 1432.5,484.2 1437.3,488.0 1442.1,487.5 1446.9,479.1 1451.7,475.0 1456.5,472.0 1461.3,471.2 1466.1,465.5 1470.9,463.9 1475.7,460.5 1480.5,468.6 1485.3,473.7 1490.1,470.2 1494.9,468.6 1499.7,461.2 1504.5,472.8 1509.3,482.5 1514.1,488.0 1518.9,492.3 1523.7,502.2 1528.5,508.9 1533.3,504.1 1538.1,498.9 1542.9,504.7 1542.9,530.5" fill="url(#gr)" clip-path="url(#c30)"/>
<polyline points="16.5,499.0 21.3,496.5 26.1,494.3 30.9,492.3 35.7,491.4 40.5,490.7 45.3,490.3 50.1,489.9 54.9,489.9 59.7,490.1 64.5,491.0 69.3,492.3 74.1,493.9 78.9,495.0 83.7,496.4 88.5,497.5 93.3,499.2 98.1,500.4 102.9,501.2 107.7,502.4 112.5,503.6 117.3,504.4 122.1,505.2 126.9,504.4 131.7,503.0 136.5,501.3 141.3,500.0 146.1,498.9 150.9,498.2 155.7,497.3 160.5,496.6 165.3,496.7 170.1,496.8 174.9,496.2 179.7,496.8 184.5,497.1 189.3,497.1 194.1,497.2 198.9,497.3 203.7,498.0 208.5,499.1 213.3,500.4 218.1,501.8 222.9,503.8 227.7,505.6 232.5,506.6 237.3,506.3 242.1,506.3 246.9,505.4 251.7,504.2 256.5,503.1 261.3,501.8 266.1,501.9 270.9,501.6 275.7,500.6 280.5,499.6 285.3,498.4 290.1,497.0 294.9,495.4 299.7,494.4 304.5,494.9 309.3,494.9 314.1,494.6 318.9,494.6 323.7,494.4 328.5,495.7 333.3,496.6 338.1,496.5 342.9,496.2 347.7,496.0 352.5,495.8 357.3,495.4 362.1,495.3 366.9,493.6 371.7,491.5 376.5,490.6 381.3,489.8 386.1,489.3 390.9,489.1 395.7,489.4 400.5,489.1 405.3,489.1 410.1,489.4 414.9,489.4 419.7,489.6 424.5,489.7 429.3,489.6 434.1,491.0 438.9,493.2 443.7,495.1 448.5,496.9 453.3,499.3 458.1,501.6 462.9,501.8 467.7,501.6 472.5,501.9 477.3,502.4 482.1,503.2 486.9,503.1 491.7,503.8 496.5,504.2 501.3,504.6 506.1,504.2 510.9,503.4 515.7,502.7 520.5,501.8 525.3,500.8 530.1,500.2 534.9,500.6 539.7,501.0 544.5,501.4 549.3,501.7 554.1,502.4 558.9,502.7 563.7,503.2 568.5,503.4 573.3,503.2 578.1,503.2 582.9,503.1 587.7,503.3 592.5,504.1 597.3,505.3 602.1,505.5 606.9,505.4 611.7,505.4 616.5,505.8 621.3,506.1 626.1,506.8 630.9,506.9 635.7,507.9 640.5,509.0 645.3,509.7 650.1,510.7 654.9,511.9 659.7,513.0 664.5,514.2 669.3,516.3 674.1,518.5 678.9,520.5 683.7,521.9 688.5,522.5 693.3,522.4 698.1,522.6 702.9,521.7 707.7,520.0 712.5,519.4 717.3,518.8 722.1,517.6 726.9,515.4 731.7,513.5 736.5,511.3 741.3,509.0 746.1,506.7 750.9,504.8 755.7,503.6 760.5,502.7 765.3,502.8 770.1,503.4 774.9,505.3 779.7,506.5 784.5,507.9 789.3,508.9 794.1,509.6 798.9,511.1 803.7,511.9 808.5,512.5 813.3,513.2 818.1,513.7 822.9,514.8 827.7,516.3 832.5,517.2 837.3,517.8 842.1,517.7 846.9,517.2 851.7,516.2 856.5,515.2 861.3,514.9 866.1,513.3 870.9,511.9 875.7,511.1 880.5,510.0 885.3,508.8 890.1,507.7 894.9,506.1 899.7,503.8 904.5,502.4 909.3,501.6 914.1,500.6 918.9,500.3 923.7,501.0 928.5,501.3 933.3,502.1 938.1,502.7 942.9,503.5 947.7,504.6 952.5,505.5 957.3,506.3 962.1,507.9 966.9,509.8 971.7,511.5 976.5,512.0 981.3,513.0 986.1,513.3 990.9,513.0 995.7,513.0 1000.5,513.0 1005.3,513.4 1010.1,513.1 1014.9,512.6 1019.7,512.3 1024.5,511.8 1029.3,510.5 1034.1,509.0 1038.9,506.6 1043.7,505.8 1048.5,505.2 1053.3,504.7 1058.1,504.3 1062.9,503.7 1067.7,503.0 1072.5,502.4 1077.3,501.9 1082.1,501.8 1086.9,501.6 1091.7,501.5 1096.5,502.2 1101.3,502.3 1106.1,503.1 1110.9,503.3 1115.7,502.1 1120.5,500.2 1125.3,498.6 1130.1,497.5 1134.9,496.3 1139.7,494.7 1144.5,493.7 1149.3,492.7 1154.1,492.1 1158.9,491.6 1163.7,490.0 1168.5,489.2 1173.3,488.6 1178.1,487.3 1182.9,486.8 1187.7,488.4 1192.5,489.6 1197.3,490.1 1202.1,490.7 1206.9,491.0 1211.7,490.9 1216.5,491.2 1221.3,491.9 1226.1,492.3 1230.9,492.9 1235.7,493.3 1240.5,493.9 1245.3,495.2 1250.1,497.8 1254.9,498.7 1259.7,499.7 1264.5,500.6 1269.3,501.2 1274.1,501.9 1278.9,502.7 1283.7,503.6 1288.5,503.7 1293.3,504.2 1298.1,504.8 1302.9,505.4 1307.7,505.9 1312.5,506.6 1317.3,506.2 1322.1,506.4 1326.9,507.4 1331.7,508.8 1336.5,509.5 1341.3,510.3 1346.1,510.7 1350.9,510.8 1355.7,510.8 1360.5,510.3 1365.3,509.6 1370.1,509.1 1374.9,508.9 1379.7,508.0 1384.5,506.9 1389.3,506.2 1394.1,504.9 1398.9,502.8 1403.7,502.1 1408.5,501.6 1413.3,500.8 1418.1,499.2 1422.9,497.6 1427.7,496.4 1432.5,495.4 1437.3,494.5 1442.1,493.1 1446.9,491.8 1451.7,490.3 1456.5,488.1 1461.3,485.9 1466.1,483.7 1470.9,481.2 1475.7,478.4 1480.5,476.6 1485.3,475.7 1490.1,474.8 1494.9,473.4 1499.7,471.8 1504.5,470.7 1509.3,470.3 1514.1,471.0 1518.9,472.2 1523.7,474.4 1528.5,477.1 1533.3,479.8 1538.1,482.3 1542.9,485.5" fill="none" stroke="#fdd835" stroke-width="1.7" stroke-linejoin="round"/>
<polyline points="16.5,485.2 21.3,485.1 26.1,480.3 30.9,480.2 35.7,490.8 40.5,487.9 45.3,484.6 50.1,488.1 54.9,491.0 59.7,505.3 64.5,513.0 69.3,514.7 74.1,513.5 78.9,508.2 83.7,504.8 88.5,501.8 93.3,504.6 98.1,497.6 102.9,503.0 107.7,505.7 112.5,501.4 117.3,500.0 122.1,502.3 126.9,494.8 131.7,492.5 136.5,490.2 141.3,495.3 146.1,492.4 150.9,493.6 155.7,490.0 160.5,494.4 165.3,498.4 170.1,503.5 174.9,498.0 179.7,509.1 184.5,504.2 189.3,501.7 194.1,496.2 198.9,494.0 203.7,500.5 208.5,509.9 213.3,511.4 218.1,513.3 222.9,517.9 227.7,519.9 232.5,513.3 237.3,499.1 242.1,497.1 246.9,497.4 251.7,487.4 256.5,486.7 261.3,477.9 266.1,494.7 270.9,496.5 275.7,496.5 280.5,497.1 285.3,495.7 290.1,498.2 294.9,498.2 299.7,499.7 304.5,505.2 309.3,497.4 314.1,493.1 318.9,487.0 323.7,484.0 328.5,496.9 333.3,506.4 338.1,495.4 342.9,492.9 347.7,493.3 352.5,493.6 357.3,492.5 362.1,496.9 366.9,476.2 371.7,475.4 376.5,484.9 381.3,482.3 386.1,478.9 390.9,482.1 395.7,500.0 400.5,503.2 405.3,495.5 410.1,497.2 414.9,492.7 419.7,495.8 424.5,495.0 429.3,495.2 434.1,495.8 438.9,505.8 443.7,511.7 448.5,507.7 453.3,511.8 458.1,515.2 462.9,502.0 467.7,501.4 472.5,499.8 477.3,504.3 482.1,503.2 486.9,495.0 491.7,503.8 496.5,500.8 501.3,502.1 506.1,500.3 510.9,500.8 515.7,498.0 520.5,499.2 525.3,500.5 530.1,494.1 534.9,505.9 539.7,506.6 544.5,509.8 549.3,506.7 554.1,505.6 558.9,507.0 563.7,508.7 568.5,504.2 573.3,497.9 578.1,501.1 582.9,496.1 587.7,501.7 592.5,511.7 597.3,511.7 602.1,507.7 606.9,506.2 611.7,508.8 616.5,512.8 621.3,509.1 626.1,517.1 630.9,510.8 635.7,517.6 640.5,513.9 645.3,509.9 650.1,510.0 654.9,518.7 659.7,528.2 664.5,528.2 669.3,536.8 674.1,537.4 678.9,535.9 683.7,533.0 688.5,517.0 693.3,515.9 698.1,514.3 702.9,505.1 707.7,490.3 712.5,500.5 717.3,502.1 722.1,501.4 726.9,498.3 731.7,500.4 736.5,506.6 741.3,504.8 746.1,503.7 750.9,506.8 755.7,499.9 760.5,503.2 765.3,516.4 770.1,513.0 774.9,516.3 779.7,518.0 784.5,522.2 789.3,514.4 794.1,509.0 798.9,520.6 803.7,518.0 808.5,513.4 813.3,513.7 818.1,514.4 822.9,514.7 827.7,524.3 832.5,528.6 837.3,521.1 842.1,514.8 846.9,511.6 851.7,508.9 856.5,500.0 861.3,505.1 866.1,497.6 870.9,498.8 875.7,501.7 880.5,498.4 885.3,497.2 890.1,500.1 894.9,501.4 899.7,497.2 904.5,500.2 909.3,504.5 914.1,497.9 918.9,504.4 923.7,509.5 928.5,509.5 933.3,509.0 938.1,506.4 942.9,513.6 947.7,512.7 952.5,510.2 957.3,511.9 962.1,523.8 966.9,523.8 971.7,524.1 976.5,510.7 981.3,512.2 986.1,509.0 990.9,504.5 995.7,509.6 1000.5,509.6 1005.3,511.3 1010.1,509.7 1014.9,505.7 1019.7,506.0 1024.5,505.7 1029.3,505.3 1034.1,502.2 1038.9,491.5 1043.7,499.6 1048.5,502.6 1053.3,502.3 1058.1,498.5 1062.9,501.4 1067.7,499.5 1072.5,503.4 1077.3,503.4 1082.1,503.2 1086.9,503.5 1091.7,504.5 1096.5,514.3 1101.3,504.9 1106.1,501.9 1110.9,501.9 1115.7,486.8 1120.5,474.7 1125.3,476.6 1130.1,485.8 1134.9,482.8 1139.7,481.4 1144.5,489.6 1149.3,489.6 1154.1,493.9 1158.9,498.0 1163.7,492.4 1168.5,493.1 1173.3,493.6 1178.1,483.8 1182.9,479.3 1187.7,497.5 1192.5,493.1 1197.3,493.1 1202.1,491.0 1206.9,486.5 1211.7,487.3 1216.5,494.0 1221.3,504.3 1226.1,503.0 1230.9,501.4 1235.7,498.9 1240.5,501.7 1245.3,501.7 1250.1,515.7 1254.9,510.7 1259.7,506.0 1264.5,506.6 1269.3,499.2 1274.1,495.6 1278.9,499.3 1283.7,506.3 1288.5,505.8 1293.3,510.3 1298.1,509.3 1302.9,507.0 1307.7,509.2 1312.5,511.0 1317.3,510.7 1322.1,513.3 1326.9,519.8 1331.7,525.9 1336.5,509.1 1341.3,507.0 1346.1,505.5 1350.9,507.9 1355.7,505.6 1360.5,503.4 1365.3,499.4 1370.1,499.7 1374.9,506.9 1379.7,498.0 1384.5,495.6 1389.3,503.2 1394.1,501.3 1398.9,497.0 1403.7,499.1 1408.5,499.1 1413.3,494.2 1418.1,485.5 1422.9,483.5 1427.7,487.6 1432.5,484.2 1437.3,488.0 1442.1,487.5 1446.9,479.1 1451.7,475.0 1456.5,472.0 1461.3,471.2 1466.1,465.5 1470.9,463.9 1475.7,460.5 1480.5,468.6 1485.3,473.7 1490.1,470.2 1494.9,468.6 1499.7,461.2 1504.5,472.8 1509.3,482.5 1514.1,488.0 1518.9,492.3 1523.7,502.2 1528.5,508.9 1533.3,504.1 1538.1,498.9 1542.9,504.7" fill="none" stroke="#7e57c2" stroke-width="1.6" stroke-linejoin="round"/>
<polyline points="16.5,558.5 21.3,562.1 26.1,564.9 30.9,565.4 35.7,581.3 40.5,574.9 45.3,564.9 50.1,570.6 54.9,576.3 59.7,599.8 64.5,623.3 69.3,626.9 74.1,624.0 78.9,614.2 83.7,607.6 88.5,601.7 93.3,607.0 98.1,591.9 102.9,601.0 107.7,606.6 112.5,597.8 117.3,586.8 122.1,587.3 126.9,561.2 131.7,563.6 136.5,562.6 141.3,574.6 146.1,567.5 150.9,570.5 155.7,560.6 160.5,574.3 165.3,581.3 170.1,592.4 174.9,581.8 179.7,612.3 184.5,598.2 189.3,590.5 194.1,574.9 198.9,567.3 203.7,585.7 208.5,617.1 213.3,622.8 218.1,625.3 222.9,622.1 227.7,624.5 232.5,612.5 237.3,579.3 242.1,573.8 246.9,574.5 251.7,568.1 256.5,571.0 261.3,560.8 266.1,583.7 270.9,586.4 275.7,586.4 280.5,587.2 285.3,584.8 290.1,587.9 294.9,590.0 299.7,595.3 304.5,616.8 309.3,601.4 314.1,593.0 318.9,583.9 323.7,580.0 328.5,599.5 333.3,617.7 338.1,591.5 342.9,584.3 347.7,585.0 352.5,585.6 357.3,582.8 362.1,590.0 366.9,565.1 371.7,577.9 376.5,587.7 381.3,582.4 386.1,574.8 390.9,577.9 395.7,598.8 400.5,605.4 405.3,594.6 410.1,597.3 414.9,587.8 419.7,592.5 424.5,590.9 429.3,591.1 434.1,596.4 438.9,605.7 443.7,619.7 448.5,602.0 453.3,609.5 458.1,614.6 462.9,585.0 467.7,583.6 472.5,579.6 477.3,588.9 482.1,586.6 486.9,567.0 491.7,585.5 496.5,578.2 501.3,577.9 506.1,573.7 510.9,574.6 515.7,570.6 520.5,573.2 525.3,575.9 530.1,577.9 534.9,616.7 539.7,612.3 544.5,622.9 549.3,614.0 554.1,610.7 558.9,614.8 563.7,608.2 568.5,599.0 573.3,584.7 578.1,590.8 582.9,578.9 587.7,589.9 592.5,613.1 597.3,609.6 602.1,598.7 606.9,595.0 611.7,601.6 616.5,612.1 621.3,604.1 626.1,626.6 630.9,599.7 635.7,615.7 640.5,609.3 645.3,601.8 650.1,599.7 654.9,619.8 659.7,621.8 664.5,590.0 669.3,606.5 674.1,606.9 678.9,605.1 683.7,602.9 688.5,589.0 693.3,587.3 698.1,585.8 702.9,576.1 707.7,560.5 712.5,579.6 717.3,581.4 722.1,580.5 726.9,576.9 731.7,586.1 736.5,595.4 741.3,594.3 746.1,593.2 750.9,598.3 755.7,593.2 760.5,598.3 765.3,631.8 770.1,613.9 774.9,620.5 779.7,619.4 784.5,617.1 789.3,604.6 794.1,593.8 798.9,623.9 803.7,612.8 808.5,604.6 813.3,605.4 818.1,606.9 822.9,605.5 827.7,629.4 832.5,628.3 837.3,607.3 842.1,596.2 846.9,590.4 851.7,585.1 856.5,566.5 861.3,571.8 866.1,564.0 870.9,566.1 875.7,571.5 880.5,564.6 885.3,562.0 890.1,566.7 894.9,568.7 899.7,560.9 904.5,569.9 909.3,585.2 914.1,565.9 918.9,591.7 923.7,618.9 928.5,620.7 933.3,611.7 938.1,603.0 942.9,628.0 947.7,618.6 952.5,612.0 957.3,617.3 962.1,625.4 966.9,612.5 971.7,611.9 976.5,593.5 981.3,595.9 986.1,585.4 990.9,574.4 995.7,584.5 1000.5,584.5 1005.3,585.7 1010.1,581.1 1014.9,565.7 1019.7,566.2 1024.5,565.8 1029.3,565.2 1034.1,569.8 1038.9,558.3 1043.7,578.4 1048.5,592.1 1053.3,592.0 1058.1,578.9 1062.9,587.2 1067.7,581.2 1072.5,591.8 1077.3,595.9 1082.1,602.9 1086.9,603.7 1091.7,606.8 1096.5,633.6 1101.3,604.5 1106.1,595.2 1110.9,582.7 1115.7,557.8 1120.5,561.3 1125.3,569.9 1130.1,580.6 1134.9,581.0 1139.7,577.9 1144.5,586.6 1149.3,586.6 1154.1,591.1 1158.9,595.7 1163.7,587.1 1168.5,590.9 1173.3,592.8 1178.1,574.6 1182.9,564.7 1187.7,605.7 1192.5,589.9 1197.3,590.0 1202.1,580.6 1206.9,569.7 1211.7,571.3 1216.5,584.7 1221.3,608.8 1226.1,605.4 1230.9,601.3 1235.7,598.8 1240.5,610.4 1245.3,610.4 1250.1,625.4 1254.9,615.6 1259.7,606.0 1264.5,607.3 1269.3,591.2 1274.1,577.8 1278.9,585.4 1283.7,592.9 1288.5,589.1 1293.3,602.6 1298.1,600.1 1302.9,594.3 1307.7,600.1 1312.5,604.9 1317.3,609.0 1322.1,627.5 1326.9,624.3 1331.7,619.6 1336.5,594.0 1341.3,590.3 1346.1,583.7 1350.9,580.8 1355.7,576.1 1360.5,571.6 1365.3,563.1 1370.1,563.6 1374.9,576.8 1379.7,564.3 1384.5,559.1 1389.3,572.2 1394.1,568.3 1398.9,560.7 1403.7,570.6 1408.5,572.1 1413.3,565.2 1418.1,561.5 1422.9,567.6 1427.7,574.3 1432.5,563.9 1437.3,580.4 1442.1,579.3 1446.9,565.3 1451.7,565.2 1456.5,581.3 1461.3,579.6 1466.1,563.4 1470.9,567.4 1475.7,558.6 1480.5,575.0 1485.3,579.8 1490.1,570.9 1494.9,566.6 1499.7,558.8 1504.5,572.6 1509.3,581.8 1514.1,591.3 1518.9,599.5 1523.7,613.3 1528.5,631.1 1533.3,622.0 1538.1,611.7 1542.9,622.1" fill="none" stroke="#2962ff" stroke-width="1.6" stroke-linejoin="round"/>
<polyline points="16.5,561.1 21.3,561.1 26.1,561.8 30.9,564.4 35.7,570.4 40.5,572.7 45.3,572.2 50.1,570.6 54.9,572.5 59.7,583.6 64.5,599.6 69.3,617.6 74.1,624.7 78.9,621.0 83.7,615.4 88.5,607.8 93.3,605.4 98.1,600.2 102.9,599.9 107.7,599.8 112.5,601.8 117.3,597.1 122.1,590.6 126.9,578.4 131.7,570.7 136.5,562.4 141.3,566.9 146.1,568.2 150.9,570.9 155.7,566.2 160.5,568.5 165.3,572.0 170.1,582.6 174.9,585.2 179.7,595.5 184.5,597.4 189.3,600.3 194.1,587.9 198.9,577.6 203.7,576.0 208.5,590.0 213.3,608.5 218.1,621.7 222.9,623.4 227.7,624.0 232.5,619.7 237.3,605.5 242.1,588.6 246.9,575.9 251.7,572.1 256.5,571.2 261.3,566.6 266.1,571.8 270.9,577.0 275.7,585.5 280.5,586.7 285.3,586.1 290.1,586.6 294.9,587.6 299.7,591.1 304.5,600.7 309.3,604.5 314.1,603.8 318.9,592.8 323.7,585.6 328.5,587.8 333.3,599.1 338.1,602.9 342.9,597.8 347.7,586.9 352.5,584.9 357.3,584.4 362.1,586.1 366.9,579.3 371.7,577.6 376.5,576.9 381.3,582.7 386.1,581.7 390.9,578.4 395.7,583.8 400.5,594.0 405.3,599.6 410.1,599.1 414.9,593.2 419.7,592.5 424.5,590.4 429.3,591.5 434.1,592.8 438.9,597.7 443.7,607.3 448.5,609.1 453.3,610.4 458.1,608.7 462.9,603.0 467.7,594.4 472.5,582.7 477.3,584.0 482.1,585.0 486.9,580.8 491.7,579.7 496.5,576.9 501.3,580.5 506.1,576.6 510.9,575.4 515.7,572.9 520.5,572.8 525.3,573.2 530.1,575.6 534.9,590.2 539.7,602.3 544.5,617.3 549.3,616.4 554.1,615.9 558.9,613.2 563.7,611.3 568.5,607.4 573.3,597.3 578.1,591.5 582.9,584.8 587.7,586.5 592.5,593.9 597.3,604.2 602.1,607.1 606.9,601.1 611.7,598.4 616.5,602.9 621.3,605.9 626.1,614.3 630.9,610.2 635.7,614.0 640.5,608.2 645.3,609.0 650.1,603.6 654.9,607.1 659.7,613.8 664.5,610.5 669.3,606.1 674.1,601.1 678.9,606.2 683.7,605.0 688.5,599.0 693.3,593.1 698.1,587.4 702.9,583.1 707.7,574.1 712.5,572.0 717.3,573.8 722.1,580.5 726.9,579.6 731.7,581.2 736.5,586.1 741.3,591.9 746.1,594.3 750.9,595.3 755.7,594.9 760.5,596.6 765.3,607.8 770.1,614.7 774.9,622.0 779.7,617.9 784.5,619.0 789.3,613.7 794.1,605.2 798.9,607.5 803.7,610.2 808.5,613.8 813.3,607.6 818.1,605.6 822.9,605.9 827.7,613.9 832.5,621.1 837.3,621.7 842.1,610.6 846.9,598.0 851.7,590.6 856.5,580.7 861.3,574.5 866.1,567.4 870.9,567.3 875.7,567.2 880.5,567.4 885.3,566.1 890.1,564.5 894.9,565.8 899.7,565.5 904.5,566.5 909.3,572.0 914.1,573.7 918.9,580.9 923.7,592.1 928.5,610.4 933.3,617.1 938.1,611.8 942.9,614.2 947.7,616.6 952.5,619.6 957.3,616.0 962.1,618.2 966.9,618.4 971.7,616.6 976.5,606.0 981.3,600.4 986.1,591.6 990.9,585.2 995.7,581.5 1000.5,581.2 1005.3,584.9 1010.1,583.8 1014.9,577.5 1019.7,571.0 1024.5,565.9 1029.3,565.7 1034.1,566.9 1038.9,564.4 1043.7,568.8 1048.5,576.3 1053.3,587.5 1058.1,587.7 1062.9,586.0 1067.7,582.4 1072.5,586.7 1077.3,589.7 1082.1,596.9 1086.9,600.9 1091.7,604.5 1096.5,614.7 1101.3,615.0 1106.1,611.1 1110.9,594.1 1115.7,578.5 1120.5,567.3 1125.3,563.0 1130.1,570.6 1134.9,577.1 1139.7,579.8 1144.5,581.8 1149.3,583.7 1154.1,588.1 1158.9,591.1 1163.7,591.3 1168.5,591.2 1173.3,590.3 1178.1,586.1 1182.9,577.3 1187.7,581.6 1192.5,586.7 1197.3,595.2 1202.1,586.8 1206.9,580.1 1211.7,573.9 1216.5,575.3 1221.3,588.3 1226.1,599.7 1230.9,605.2 1235.7,601.9 1240.5,603.5 1245.3,606.5 1250.1,615.4 1254.9,617.1 1259.7,615.7 1264.5,609.6 1269.3,601.5 1274.1,592.1 1278.9,584.8 1283.7,585.4 1288.5,589.1 1293.3,594.8 1298.1,597.2 1302.9,599.0 1307.7,598.2 1312.5,599.8 1317.3,604.7 1322.1,613.8 1326.9,620.3 1331.7,623.8 1336.5,612.6 1341.3,601.3 1346.1,589.3 1350.9,584.9 1355.7,580.2 1360.5,576.2 1365.3,570.2 1370.1,566.1 1374.9,567.8 1379.7,568.2 1384.5,566.7 1389.3,565.2 1394.1,566.5 1398.9,567.1 1403.7,566.5 1408.5,567.8 1413.3,569.3 1418.1,566.3 1422.9,564.8 1427.7,567.8 1432.5,568.6 1437.3,572.9 1442.1,574.5 1446.9,575.0 1451.7,570.0 1456.5,570.6 1461.3,575.4 1466.1,574.8 1470.9,570.1 1475.7,563.1 1480.5,567.0 1485.3,571.1 1490.1,575.2 1494.9,572.4 1499.7,565.4 1504.5,566.0 1509.3,571.1 1514.1,581.9 1518.9,590.9 1523.7,601.3 1528.5,614.6 1533.3,622.1 1538.1,621.6 1542.9,618.6" fill="none" stroke="#ff6d00" stroke-width="1.6" stroke-linejoin="round"/>
</g>
<text x="27.0" y="69.6" font-size="17" font-weight="normal" fill="#131722" stroke="#131722" stroke-width="0.35" textLength="61.7" lengthAdjust="spacingAndGlyphs">Binance</text>
<text x="96.4" y="69.6" font-size="17" font-weight="normal" fill="#131722" stroke="#131722" stroke-width="0.35" textLength="33.9" lengthAdjust="spacingAndGlyphs">Coin</text>
<text x="139.3" y="69.6" font-size="17" font-weight="normal" fill="#131722" stroke="#131722" stroke-width="0.35" textLength="6.0" lengthAdjust="spacingAndGlyphs">/</text>
<text x="152.6" y="69.6" font-size="17" font-weight="normal" fill="#131722" stroke="#131722" stroke-width="0.35" textLength="69.6" lengthAdjust="spacingAndGlyphs">TetherUS</text>
<text x="229.6" y="69.6" font-size="17" font-weight="bold" fill="#131722" textLength="3.8" lengthAdjust="spacingAndGlyphs">·</text>
<text x="241.8" y="69.6" font-size="17" font-weight="normal" fill="#131722" stroke="#131722" stroke-width="0.35" textLength="17.9" lengthAdjust="spacingAndGlyphs">1D</text>
<text x="268.0" y="69.6" font-size="17" font-weight="bold" fill="#131722" textLength="3.8" lengthAdjust="spacingAndGlyphs">·</text>
<text x="279.3" y="69.6" font-size="17" font-weight="normal" fill="#131722" stroke="#131722" stroke-width="0.35" textLength="68.0" lengthAdjust="spacingAndGlyphs">BINANCE</text>
<text x="359.3" y="69.6" font-size="17" font-weight="normal" fill="#131722" stroke="#131722" stroke-width="0.35" textLength="64.4" lengthAdjust="spacingAndGlyphs">O768.62</text>
<text x="436.5" y="69.6" font-size="17" font-weight="normal" fill="#131722" stroke="#131722" stroke-width="0.35" textLength="63.8" lengthAdjust="spacingAndGlyphs">H769.79</text>
<text x="512.4" y="69.6" font-size="17" font-weight="normal" fill="#131722" stroke="#131722" stroke-width="0.35" textLength="61.6" lengthAdjust="spacingAndGlyphs">L746.15</text>
<text x="586.4" y="69.6" font-size="17" font-weight="normal" fill="#131722" stroke="#131722" stroke-width="0.35" textLength="62.8" lengthAdjust="spacingAndGlyphs">C751.26</text>
<text x="662.1" y="69.6" font-size="17" font-weight="normal" fill="#131722" stroke="#131722" stroke-width="0.35" textLength="126.0" lengthAdjust="spacingAndGlyphs">−17.37 (−2.26%)</text>
<text x="27.0" y="95.8" font-size="17" font-weight="normal" fill="#131722" stroke="#131722" stroke-width="0.35" textLength="32.8" lengthAdjust="spacingAndGlyphs">EMA</text>
<text x="27.1" y="478.5" font-size="17" font-weight="normal" fill="#131722" stroke="#131722" stroke-width="0.35" textLength="23.3" lengthAdjust="spacingAndGlyphs">RSI</text>
<text x="27.0" y="576.8" font-size="17" font-weight="normal" fill="#131722" stroke="#131722" stroke-width="0.35" textLength="43.5" lengthAdjust="spacingAndGlyphs">Stoch</text>
<clipPath id="ct"><rect x="16" y="641" width="1663.5" height="40"/></clipPath><g clip-path="url(#ct)">
<text x="50.3" y="667.6" font-size="17" font-weight="normal" fill="#131722" stroke="#131722" stroke-width="0.35" textLength="27.6" lengthAdjust="spacingAndGlyphs">Oct</text>
<text x="198.1" y="667.6" font-size="17" font-weight="normal" fill="#131722" stroke="#131722" stroke-width="0.35" textLength="29.5" lengthAdjust="spacingAndGlyphs">Nov</text>
<text x="342.5" y="667.6" font-size="17" font-weight="normal" fill="#131722" stroke="#131722" stroke-width="0.35" textLength="28.8" lengthAdjust="spacingAndGlyphs">Dec</text>
<text x="485.5" y="667.6" font-size="17" font-weight="bold" fill="#131722" textLength="40.4" lengthAdjust="spacingAndGlyphs">2025</text>
<text x="640.7" y="667.6" font-size="17" font-weight="normal" fill="#131722" stroke="#131722" stroke-width="0.35" textLength="27.5" lengthAdjust="spacingAndGlyphs">Feb</text>
<text x="774.6" y="667.6" font-size="17" font-weight="normal" fill="#131722" stroke="#131722" stroke-width="0.35" textLength="28.5" lengthAdjust="spacingAndGlyphs">Mar</text>
<text x="924.2" y="667.6" font-size="17" font-weight="normal" fill="#131722" stroke="#131722" stroke-width="0.35" textLength="27.0" lengthAdjust="spacingAndGlyphs">Apr</text>
<text x="1066.2" y="667.6" font-size="17" font-weight="normal" fill="#131722" stroke="#131722" stroke-width="0.35" textLength="31.0" lengthAdjust="spacingAndGlyphs">May</text>
<text x="1216.7" y="667.6" font-size="17" font-weight="normal" fill="#131722" stroke="#131722" stroke-width="0.35" textLength="27.5" lengthAdjust="spacingAndGlyphs">Jun</text>
<text x="1363.0" y="667.6" font-size="17" font-weight="normal" fill="#131722" stroke="#131722" stroke-width="0.35" textLength="23.0" lengthAdjust="spacingAndGlyphs">Jul</text>
<text x="1508.8" y="667.6" font-size="17" font-weight="normal" fill="#131722" stroke="#131722" stroke-width="0.35" textLength="29.0" lengthAdjust="spacingAndGlyphs">Aug</text>
<text x="1658.1" y="667.6" font-size="17" font-weight="normal" fill="#131722" stroke="#131722" stroke-width="0.35" textLength="28.0" lengthAdjust="spacingAndGlyphs">Sep</text>
</g>
<text x="1693.6" y="105.1" font-size="17" font-weight="normal" fill="#131722" stroke="#131722" stroke-width="0.35" textLength="52.7" lengthAdjust="spacingAndGlyphs">850.00</text>
<text x="1693.6" y="152.2" font-size="17" font-weight="normal" fill="#131722" stroke="#131722" stroke-width="0.35" textLength="52.7" lengthAdjust="spacingAndGlyphs">800.00</text>
<text x="1693.6" y="383.0" font-size="17" font-weight="normal" fill="#131722" stroke="#131722" stroke-width="0.35" textLength="52.7" lengthAdjust="spacingAndGlyphs">550.00</text>
<text x="1693.6" y="428.5" font-size="17" font-weight="normal" fill="#131722" stroke="#131722" stroke-width="0.35" textLength="52.7" lengthAdjust="spacingAndGlyphs">500.00</text>
<text x="1693.6" y="473.9" font-size="17" font-weight="normal" fill="#131722" stroke="#131722" stroke-width="0.35" textLength="43.2" lengthAdjust="spacingAndGlyphs">80.00</text>
<text x="1693.6" y="524.0" font-size="17" font-weight="normal" fill="#131722" stroke="#131722" stroke-width="0.35" textLength="43.2" lengthAdjust="spacingAndGlyphs">40.00</text>
<text x="1693.6" y="563.8" font-size="17" font-weight="normal" fill="#131722" stroke="#131722" stroke-width="0.35" textLength="52.7" lengthAdjust="spacingAndGlyphs">100.00</text>
<text x="1693.6" y="639.2" font-size="17" font-weight="normal" fill="#131722" stroke="#131722" stroke-width="0.35" textLength="33.7" lengthAdjust="spacingAndGlyphs">0.00</text>
<path d="M1680 120.2H1750.8a3 3 0 0 1 3 3V143.4a3 3 0 0 1 -3 3H1680z" fill="#333333"/>
<text x="1693.2" y="139.4" font-size="17" font-weight="bold" fill="#fff" textLength="53.1" lengthAdjust="spacingAndGlyphs">814.26</text>
<path d="M1680 178.2H1766.8a3 3 0 0 1 3 3V222.9a3 3 0 0 1 -3 3H1680z" fill="#000"/>
<text x="1693.2" y="197.2" font-size="17" font-weight="bold" fill="#fff" textLength="53.1" lengthAdjust="spacingAndGlyphs">751.26</text>
<text x="1692.7" y="217.9" font-size="17" font-weight="bold" fill="#b8b8b8" textLength="70.0" lengthAdjust="spacingAndGlyphs">04:44:59</text>
<path d="M1680 225.9H1752.3a1.5 1.5 0 0 1 1.5 1.5V250.7a1.5 1.5 0 0 1 -1.5 1.5H1680z" fill="#333333"/>
<text x="1693.2" y="244.0" font-size="17" font-weight="bold" fill="#fff" textLength="53.1" lengthAdjust="spacingAndGlyphs">745.96</text>
<path d="M1680 251.3H1752.3a1.5 1.5 0 0 1 1.5 1.5V276.1a1.5 1.5 0 0 1 -1.5 1.5H1680z" fill="#2962ff"/>
<text x="1693.2" y="269.5" font-size="17" font-weight="bold" fill="#fff" textLength="53.1" lengthAdjust="spacingAndGlyphs">722.12</text>
<path d="M1680 276.8H1752.3a1.5 1.5 0 0 1 1.5 1.5V301.6a1.5 1.5 0 0 1 -1.5 1.5H1680z" fill="#000"/>
<text x="1693.2" y="294.9" font-size="17" font-weight="bold" fill="#fff" textLength="53.1" lengthAdjust="spacingAndGlyphs">697.47</text>
<path d="M1680 302.2H1752.3a1.5 1.5 0 0 1 1.5 1.5V327.0a1.5 1.5 0 0 1 -1.5 1.5H1680z" fill="#000"/>
<text x="1693.2" y="320.4" font-size="17" font-weight="bold" fill="#fff" textLength="53.1" lengthAdjust="spacingAndGlyphs">645.82</text>
<path d="M1680 327.7H1752.3a1.5 1.5 0 0 1 1.5 1.5V352.4a1.5 1.5 0 0 1 -1.5 1.5H1680z" fill="#000"/>
<text x="1693.2" y="345.8" font-size="17" font-weight="bold" fill="#fff" textLength="53.1" lengthAdjust="spacingAndGlyphs">615.70</text>
<path d="M1680 353.1H1752.3a1.5 1.5 0 0 1 1.5 1.5V377.1a1.5 1.5 0 0 1 -1.5 1.5H1680z" fill="#000"/>
<text x="1693.2" y="371.3" font-size="17" font-weight="bold" fill="#fff" textLength="53.1" lengthAdjust="spacingAndGlyphs">600.55</text>
<path d="M1680 382.0H1750.8a3 3 0 0 1 3 3V405.8a3 3 0 0 1 -3 3H1680z" fill="#000"/>
<text x="1693.2" y="401.5" font-size="17" font-weight="bold" fill="#fff" textLength="53.1" lengthAdjust="spacingAndGlyphs">530.05</text>
<path d="M1680 466.1H1741.9a3 3 0 0 1 3 3V489.7a3 3 0 0 1 -3 3H1680z" fill="#fdd835"/>
<text x="1693.5" y="485.5" font-size="17" font-weight="bold" fill="#000" textLength="43.3" lengthAdjust="spacingAndGlyphs">66.25</text>
<path d="M1680 492.7H1741.9a3 3 0 0 1 3 3V515.6a3 3 0 0 1 -3 3H1680z" fill="#7e57c2"/>
<text x="1693.5" y="511.8" font-size="17" font-weight="bold" fill="#fff" textLength="43.3" lengthAdjust="spacingAndGlyphs">50.53</text>
<path d="M1680 583.2H1741.9a3 3 0 0 1 3 3V606.5a3 3 0 0 1 -3 3H1680z" fill="#ff6d00"/>
<text x="1693.5" y="602.5" font-size="17" font-weight="bold" fill="#fff" textLength="43.3" lengthAdjust="spacingAndGlyphs">20.61</text>
<path d="M1680 609.5H1741.9a3 3 0 0 1 3 3V631.9a3 3 0 0 1 -3 3H1680z" fill="#2962ff"/>
<text x="1693.5" y="628.3" font-size="17" font-weight="bold" fill="#fff" textLength="43.3" lengthAdjust="spacingAndGlyphs">16.21</text>
<rect x="1685" y="47" width="86.2" height="38" rx="5" ry="5" fill="#fff" stroke="#ebecf0" stroke-width="1.2"/>
<text x="1699.5" y="71.6" font-size="17" font-weight="normal" fill="#131722" stroke="#131722" stroke-width="0.35" textLength="41.1" lengthAdjust="spacingAndGlyphs">USDT</text>
<g transform="translate(18.1,710.1) scale(1.25)" fill="#131313"><path d="M14 22H7V11H0V4h14v18zM28 22h-8l7.5-18h8L28 22z"/><circle cx="20" cy="8" r="4"/></g>
<text x="73.6" y="737.3" font-size="30.5" font-weight="bold" fill="#131313" textLength="181.0" lengthAdjust="spacingAndGlyphs">TradingView</text>
</svg>
</body></html>
